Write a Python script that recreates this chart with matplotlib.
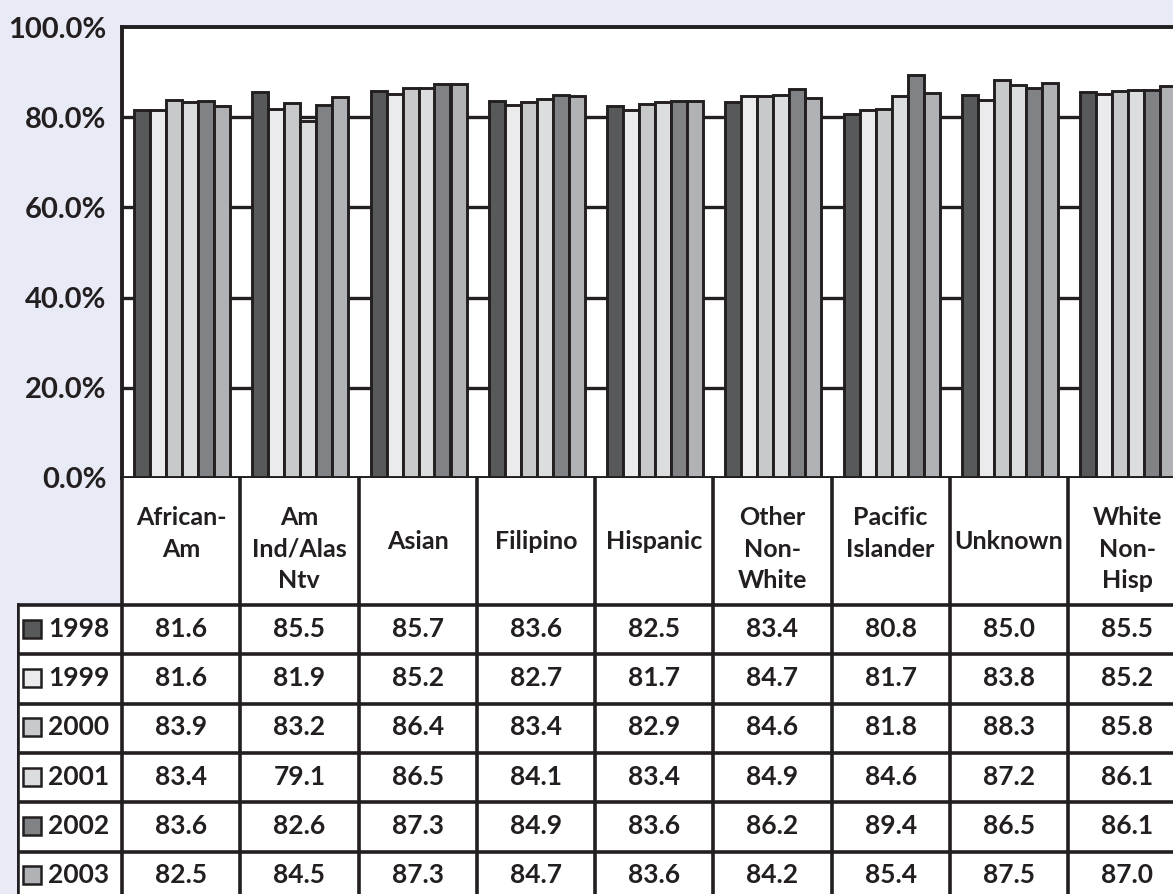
import numpy as np
import matplotlib
matplotlib.use("Agg")
import matplotlib.pyplot as plt
from matplotlib.patches import Rectangle

plt.rcParams["font.family"] = ["Lato", "DejaVu Sans"]
plt.rcParams["font.weight"] = "bold"

# ------------------------------
# data
# ------------------------------
categories = ["African-\nAm", "Am\nInd/Alas\nNtv", "Asian", "Filipino", "Hispanic",
              "Other\nNon-\nWhite", "Pacific\nIslander", "Unknown", "White\nNon-\nHisp"]
years = ["1998", "1999", "2000", "2001", "2002", "2003"]

v1998 = [81.6, 85.5, 85.7, 83.6, 82.5, 83.4, 80.8, 85.0, 85.5]
v1999 = [81.6, 81.9, 85.2, 82.7, 81.7, 84.7, 81.7, 83.8, 85.2]
v2000 = [83.9, 83.2, 86.4, 83.4, 82.9, 84.6, 81.8, 88.3, 85.8]
v2001 = [83.4, 79.1, 86.5, 84.1, 83.4, 84.9, 84.6, 87.2, 86.1]
v2002 = [83.6, 82.6, 87.3, 84.9, 83.6, 86.2, 89.4, 86.5, 86.1]
v2003 = [82.5, 84.5, 87.3, 84.7, 83.6, 84.2, 85.4, 87.5, 87.0]
series = [v1998, v1999, v2000, v2001, v2002, v2003]

colors = ["#58595B", "#EBEBED", "#C8C9CB", "#DCDDDF", "#808285", "#B1B2B5"]
bg = "#E8EAF5"
lc = "#231F20"

# ------------------------------
# layout (pixels)
# ------------------------------
W, H = 1173, 894
col_w = 118.25
plot_left, plot_top, plot_bottom = 122, 27, 478
tab_left = 17
head_h = 127
row_h = 49.3

fig = plt.figure(figsize=(W / 100, H / 100), dpi=100, facecolor=bg)

ax = fig.add_axes([plot_left / W, 1 - plot_bottom / H,
                   len(categories) * col_w / W, (plot_bottom - plot_top) / H])
ax.set_facecolor("white")
ax.set_xlim(0, len(categories))
ax.set_ylim(0, 100)

for g in [20, 40, 60, 80]:
    ax.axhline(g, color=lc, lw=2.4, zorder=1)

x = np.arange(len(categories))
bw = 16 / col_w
start = 12 / col_w
for k, (vals, c) in enumerate(zip(series, colors)):
    ax.bar(x + start + k * bw, vals, bw, align="edge", color=c,
           edgecolor=lc, linewidth=2.1, zorder=2)

ticks = [0, 20, 40, 60, 80, 100]
ax.set_xticks([])
ax.set_yticks(ticks)
ax.set_yticklabels([f"{t:.1f}%" for t in ticks],
                   fontsize=21, fontweight="bold", color=lc)
ax.tick_params(axis="y", length=0, pad=11)
for s in ax.spines.values():
    s.set_linewidth(2.8)
    s.set_color(lc)

# ------------------------------
# data table below the bars
# ------------------------------
tab_w = plot_left - tab_left + len(categories) * col_w
tx = fig.add_axes([tab_left / W, 0, tab_w / W, (H - plot_bottom) / H])
x0 = -(plot_left - tab_left) / col_w
tx.set_xlim(x0, len(categories))
tx.set_ylim(H - plot_bottom, 0)
tx.axis("off")

tx.add_patch(Rectangle((0, 0), len(categories), head_h, facecolor="white",
                       edgecolor="none", zorder=0))
tx.add_patch(Rectangle((x0, head_h), len(categories) - x0, 400, facecolor="white",
                       edgecolor="none", zorder=0))

for i in range(len(categories) + 1):
    tx.plot([i, i], [0, 500], color=lc, lw=2.6, zorder=3, clip_on=False)
tx.plot([x0 + 0.008, x0 + 0.008], [head_h, 500], color=lc, lw=2.6, zorder=3)
for r in range(len(years) + 1):
    y = head_h + r * row_h
    tx.plot([x0, len(categories)], [y, y], color=lc, lw=2.6, zorder=3)

# multi-line headers hang from the top of the cell, single words sit centred
for i, name in enumerate(categories):
    if "\n" in name:
        tx.text(i + 0.5, 28, name, ha="center", va="top", fontsize=18,
                fontweight="bold", color=lc, linespacing=1.45)
    else:
        tx.text(i + 0.5, head_h / 2, name, ha="center", va="center", fontsize=18,
                fontweight="bold", color=lc)

sq = 18
for r, (yr, vals, c) in enumerate(zip(years, series, colors)):
    yc = head_h + (r + 0.5) * row_h - 1
    tx.add_patch(Rectangle((x0 + 6 / col_w, yc - sq / 2), sq / col_w, sq,
                           facecolor=c, edgecolor=lc, lw=1.8, zorder=4))
    tx.text(x0 + 31 / col_w, yc, yr, ha="left", va="center", fontsize=19,
            fontweight="bold", color=lc)
    for i, v in enumerate(vals):
        tx.text(i + 0.5, yc, f"{v:.1f}", ha="center", va="center", fontsize=19,
                fontweight="bold", color=lc)

fig.savefig("out.png", dpi=100, facecolor=bg)
